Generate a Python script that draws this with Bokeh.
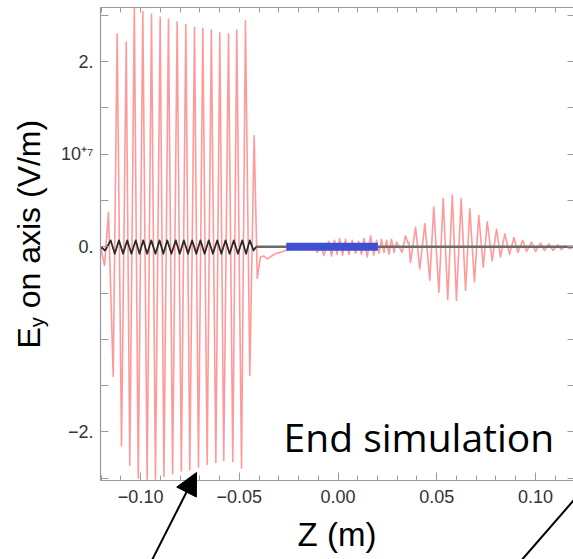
import math
from bokeh.plotting import figure
from bokeh.models import Range1d, FixedTicker, LinearAxis, Label, Arrow, NormalHead
from bokeh.embed import file_html
from bokeh.resources import INLINE

# ---------------- data (Z in m, Ey in units of 1e7 V/m) ----------------
red_z = [-0.1203, -0.1183, -0.1163, -0.1139, -0.1119, -0.1097, -0.1073, -0.1055, -0.1032, -0.1012,
         -0.0989, -0.0967, -0.0945, -0.0925, -0.0901, -0.0882, -0.0859, -0.0838, -0.0815, -0.0794,
         -0.0771, -0.0751, -0.0727, -0.0707, -0.0685, -0.0663, -0.0642, -0.0619, -0.0599, -0.0579,
         -0.0555, -0.0533, -0.0513, -0.0489, -0.0469, -0.0447, -0.0425, -0.0409,
         -0.0393, -0.0376, -0.0357, -0.0337, -0.0312, -0.0291, -0.0266, -0.0215, -0.0165, -0.0139,
         -0.0124, -0.0105, -0.0089, -0.0072, -0.0047, -0.0033, -0.0018, -0.0005, 0.0008, 0.0023,
         0.0038, 0.0055, 0.0072, 0.0089, 0.0104, 0.0119, 0.0132, 0.0148, 0.0165, 0.0181,
         0.0195, 0.0208, 0.0220, 0.0233, 0.0246, 0.0258, 0.0271, 0.0284, 0.0296, 0.0325,
         0.0342, 0.0354, 0.0359, 0.0367, 0.0393, 0.0414, 0.0440, 0.0465, 0.0485, 0.0511,
         0.0533, 0.0556, 0.0579, 0.0600, 0.0624, 0.0646, 0.0668, 0.0691, 0.0713, 0.0736,
         0.0756, 0.0781, 0.0803, 0.0823, 0.0845, 0.0869, 0.0891, 0.0911, 0.0936, 0.0955,
         0.0980, 0.1001, 0.1026, 0.1046, 0.1068, 0.1090, 0.1113, 0.1131, 0.1152, 0.1173, 0.1193]
red_ey = [0.0, -0.20, 0.37, -1.40, 2.30, -2.15, 2.21, -2.36, 2.58, -2.50,
          2.54, -2.51, 2.51, -2.51, 2.48, -2.48, 2.46, -2.45, 2.43, -2.42,
          2.40, -2.41, 2.37, -2.38, 2.36, -2.35, 2.34, -2.33, 2.31, -2.31,
          2.30, -2.32, 2.34, -2.39, 2.44, -1.39, 1.20, -0.34,
          -0.11, -0.10, -0.13, -0.10, -0.07, -0.06, -0.04, -0.02, -0.01, -0.03,
          0.01, -0.06, 0.02, -0.09, 0.06, -0.10, 0.07, -0.08, 0.09, -0.09,
          0.08, -0.08, 0.07, -0.07, 0.06, -0.08, 0.09, -0.11, 0.12, -0.09,
          0.07, -0.07, 0.08, -0.06, 0.07, -0.08, 0.08, -0.06, 0.05, -0.06,
          0.12, 0.04, 0.05, -0.17, 0.21, -0.24, 0.25, -0.36, 0.43, -0.49,
          0.52, -0.57, 0.56, -0.58, 0.52, -0.47, 0.41, -0.38, 0.34, -0.22,
          0.27, -0.15, 0.19, -0.11, 0.14, -0.08, 0.10, -0.06, 0.07, -0.05,
          0.05, -0.05, 0.04, -0.04, 0.03, -0.04, 0.02, -0.03, 0.01, -0.02, 0.0]

black_z = [-0.1203, -0.1180, -0.1152, -0.1131, -0.1110, -0.1089, -0.1068, -0.1047, -0.1025, -0.1006,
           -0.0987, -0.0967, -0.0946, -0.0925, -0.0904, -0.0885, -0.0865, -0.0844, -0.0822, -0.0802,
           -0.0781, -0.0760, -0.0739, -0.0718, -0.0697, -0.0676, -0.0655, -0.0634, -0.0612, -0.0591,
           -0.0570, -0.0549, -0.0528, -0.0507, -0.0485, -0.0466, -0.0447, -0.0428, -0.0415]
black_ey = [0.0, -0.04, 0.07, -0.075, 0.07, -0.075, 0.07, -0.075, 0.07, -0.075,
            0.07, -0.075, 0.07, -0.075, 0.07, -0.075, 0.07, -0.075, 0.07, -0.075,
            0.07, -0.075, 0.07, -0.075, 0.07, -0.075, 0.07, -0.075, 0.07, -0.075,
            0.07, -0.075, 0.07, -0.075, 0.07, -0.075, 0.07, -0.04, 0.0]

zero_z = [-0.0415, 0.1193]
zero_ey = [0.0, 0.0]

bunch_z = [-0.0262, 0.0202]
bunch_ey = [0.0, 0.0]

x_ticks = [-0.10, -0.05, 0.0, 0.05, 0.10]
x_tick_labels = ["\u22120.10", "\u22120.05", "0.00", "0.05", "0.10"]
x_minor = [-0.12, -0.11, -0.09, -0.08, -0.07, -0.06, -0.04, -0.03, -0.02, -0.01,
           0.01, 0.02, 0.03, 0.04, 0.06, 0.07, 0.08, 0.09, 0.11]
x_all = sorted(x_ticks + x_minor)
y_ticks = [-2.0, 0.0, 1.0, 2.0]
y_tick_labels = ["\u22122.", "0.", "10\u207a\u2077", "2."]
y_minor = [-2.5, -1.5, -1.0, -0.5, 0.5, 1.5, 2.5]
y_all = sorted(y_ticks + y_minor)

# plotted box (the frame of the original chart) and the whole canvas, in data units
Z_LEFT, Z_RIGHT = -0.1203, 0.1193
EY_BOTTOM, EY_TOP = -2.524, 2.584
CANVAS_Z = (-0.1710, 0.1193)
CANVAS_EY = (-3.377, 2.660)

# ---------------- figure ----------------
FONT = "Liberation Sans"
AX = "#9a9a9a"
p = figure(width=573, height=559, output_backend="svg", toolbar_location=None,
           x_range=Range1d(*CANVAS_Z), y_range=Range1d(*CANVAS_EY),
           min_border=0, background_fill_color="white", border_fill_color="white")
p.outline_line_color = None
p.xgrid.visible = False
p.ygrid.visible = False

def base_axis(ax, fixed, bounds):
    ax.fixed_location = fixed
    ax.bounds = bounds
    ax.axis_line_color = AX
    ax.axis_line_width = 1.2
    ax.major_tick_line_color = AX
    ax.minor_tick_line_color = AX
    ax.major_tick_out = 0
    ax.minor_tick_out = 0
    ax.major_label_text_font = FONT
    ax.major_label_text_font_size = "18px"
    ax.major_label_text_color = "#333333"

# bottom axis
xa = p.xaxis[0]
base_axis(xa, EY_BOTTOM, (Z_LEFT, Z_RIGHT))
xa.ticker = FixedTicker(ticks=x_ticks, minor_ticks=x_minor)
xa.major_label_overrides = dict(zip(x_ticks, x_tick_labels))
xa.major_tick_in = 8
xa.minor_tick_in = 5
xa.major_label_standoff = 9
xa.axis_label = "Z (m)"
xa.axis_label_text_font = FONT
xa.axis_label_text_font_size = "33px"
xa.axis_label_text_font_style = "normal"
xa.axis_label_text_color = "black"
xa.axis_label_standoff = 10

# left axis
ya = p.yaxis[0]
base_axis(ya, Z_LEFT, (EY_BOTTOM, EY_TOP))
ya.ticker = FixedTicker(ticks=y_ticks, minor_ticks=y_minor)
ya.major_label_overrides = dict(zip(y_ticks, y_tick_labels))
ya.major_tick_in = 8
ya.minor_tick_in = 8
ya.major_label_standoff = 7

# top and right frame: ticks only (as minor ticks, so no labels)
top = LinearAxis()
base_axis(top, EY_TOP, (Z_LEFT, Z_RIGHT))
top.ticker = FixedTicker(ticks=[], minor_ticks=x_all)
top.minor_tick_in = 5
p.add_layout(top, "above")

right = LinearAxis()
base_axis(right, Z_RIGHT, (EY_BOTTOM, EY_TOP))
right.ticker = FixedTicker(ticks=[], minor_ticks=y_all)
right.minor_tick_in = 6
right.axis_line_color = None
p.add_layout(right, "right")

# ---------------- curves ----------------
p.line(red_z, red_ey, line_color="#ff2020", line_alpha=0.45, line_width=1.6, line_join="round")
p.line(zero_z, zero_ey, line_color="#6a6a6a", line_width=2.6)
p.line(black_z, black_ey, line_color="#2b2b2b", line_width=1.8, line_join="round")
p.line(bunch_z, bunch_ey, line_color="#3f4fd3", line_width=8, line_cap="butt")

# ---------------- y label (E with subscript y), screen units from the canvas bottom-left ----------------
ylab_kw = dict(x_units="screen", y_units="screen", angle=math.pi / 2,
               text_font=FONT, text_color="black", text_align="left", text_baseline="middle")
p.add_layout(Label(x=28, y=211, text="E", text_font_size="32px", **ylab_kw))
p.add_layout(Label(x=36, y=232.3, text="y", text_font_size="20px", **ylab_kw))
p.add_layout(Label(x=28, y=251.2, text="on axis (V/m)", text_font_size="32px", **ylab_kw))

# ---------------- annotations ----------------
p.add_layout(Label(x=-0.0276, y=-2.048, text="End simulation", text_font="Open Sans",
                   text_font_size="39px", text_color="black", text_baseline="middle"))
p.add_layout(Arrow(x_start=-0.0941, y_start=-3.377, x_end=-0.0717, y_end=-2.437,
                   line_color="black", line_width=2,
                   end=NormalHead(size=22, fill_color="black", line_color="black")))
p.add_layout(Arrow(x_start=0.0933, y_start=-3.377, x_end=0.1193, y_end=-2.740,
                   line_color="black", line_width=2, end=None))

open("out.html", "w").write(file_html(p, INLINE))
